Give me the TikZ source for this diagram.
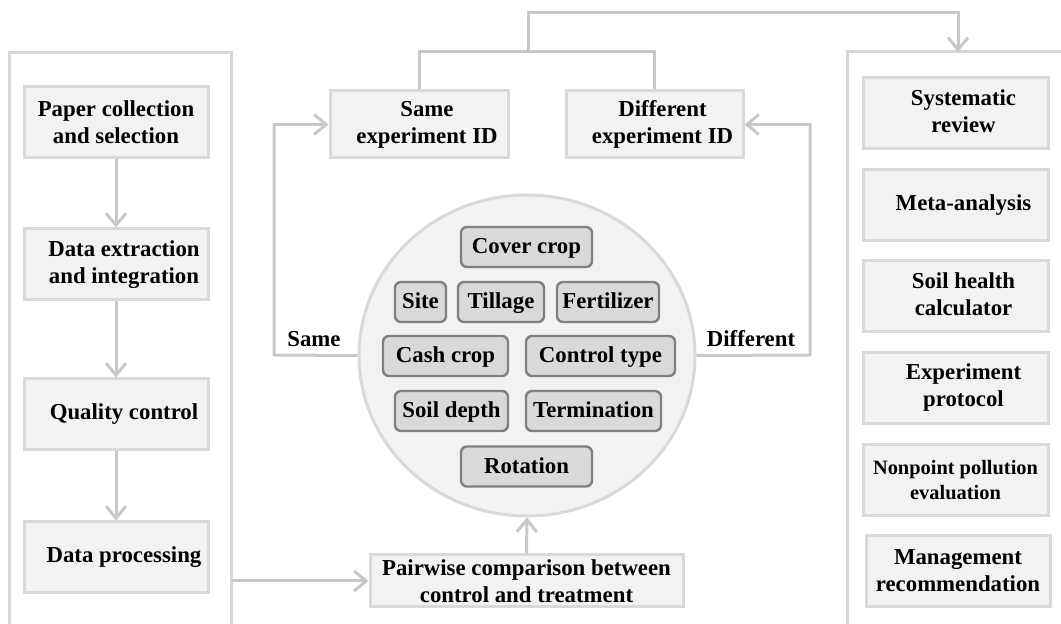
\documentclass[tikz,border=0pt]{standalone}
\usepackage{fontspec}
\setmainfont{Liberation Serif}
\usepackage{xcolor}
\usetikzlibrary{arrows.meta, positioning, calc, shapes.geometric}

\definecolor{conngray}{RGB}{200,200,200}
\definecolor{framegray}{RGB}{215,215,215}
\definecolor{boxline}{RGB}{217,217,217}
\definecolor{boxfill}{RGB}{242,242,242}
\definecolor{chipfill}{RGB}{217,217,217}
\definecolor{chipline}{RGB}{128,128,128}

\newcommand{\boxfont}{\bfseries\fontsize{11.4}{13.5}\selectfont}
% text set a little right of the box centre
\newcommand{\rtext}[1]{\hspace*{8pt}\begin{tabular}{@{}c@{}}#1\end{tabular}}

\begin{document}
\begin{tikzpicture}[x=0.5pt, y=-0.5pt,
		box/.style={draw=boxline, fill=boxfill, line width=1.5pt, align=center, inner sep=0pt,
			minimum width=92pt, minimum height=35.5pt, font=\boxfont},
		chip/.style={draw=chipline, fill=chipfill, line width=1.2pt, rounded corners=3pt,
			inner sep=0pt, minimum height=20pt, text height=9pt, text depth=2pt, font=\boxfont},
		conn/.style={draw=conngray, line width=1.5pt},
		arr/.style={conn, -{Straight Barb[length=6pt, width=10pt]}},
		frame/.style={draw=framegray, line width=1.5pt},
		lbl/.style={font=\boxfont}
	]
	
	\useasboundingbox (0,0) rectangle (1061,624);
	
	% Frames
	\draw[frame] (9,624) |- (231,53) -- (231,624);
	\draw[frame] (847,624) |- (1061,52);
	
	% Workflow on the left
	\node[box] (paper)   at (116,122.5) {Paper collection\\and selection};
	\node[box] (extract) at (116,264.5) {\rtext{Data extraction\\and integration}};
	\node[box] (quality) at (116,414.5) {\rtext{Quality control}};
	\node[box] (process) at (116,557.5) {\rtext{Data processing}};
	
	\foreach \a/\b in {paper/extract, extract/quality, quality/process}
	\draw[arr] (\a) -- (\b);
	
	% Pairwise comparison and criteria
	\node[box, minimum width=156.5pt, minimum height=26pt] (pair) at (526.5,581)
	{Pairwise comparison between\\control and treatment};
	
	\node[ellipse, draw=boxline, fill=boxfill, line width=1.5pt,
	minimum width=168pt, minimum height=160.5pt, inner sep=0pt] (circ) at (527,355.5) {};
	
	\node[chip, minimum width=65.5pt] (cover)   at (526.5,247) {Cover crop};
	\node[chip, minimum width=25.5pt] (site)    at (420.5,302) {Site};
	\node[chip, minimum width=43pt]   (tillage) at (501,302)   {Tillage};
	\node[chip, minimum width=51pt]   (fert)    at (608,302)   {Fertilizer};
	\node[chip, minimum width=62.5pt] (cash)    at (445.5,356) {Cash crop};
	\node[chip, minimum width=74.5pt] (ctype)   at (600.5,356) {Control type};
	\node[chip, minimum width=56.5pt] (depth)   at (451.5,411) {Soil depth};
	\node[chip, minimum width=67.5pt] (term)    at (593.5,411) {Termination};
	\node[chip, minimum width=65.5pt] (rot)     at (526.5,466.5) {Rotation};
	
	\coordinate (lfout) at (231,581);
	\draw[arr] (lfout) -- (pair.west);
	\draw[arr] (pair.north) -- (circ.south);
	
	% Experiment ID
	\node[box, minimum width=89pt, minimum height=33.5pt] (sameid) at (419,124.5)
	{\rtext{Same\\experiment ID}};
	\node[box, minimum width=88.5pt, minimum height=33.5pt] (diffid) at (654.5,124.5)
	{\rtext{Different\\experiment ID}};
	
	\coordinate (sameturn) at (274,355);
	\coordinate (diffturn) at (810,355);
	\draw[arr] (circ.west) -- (sameturn) |- (sameid.west);
	\draw[arr] (circ.east) -- (diffturn) |- (diffid.east);
	\node[lbl] (same) at (314,339) {Same};
	\node[lbl] (diff) at (751,339) {Different};
	
	% Bracket to applications
	\coordinate (brk) at (528,52);
	\coordinate (toprt) at (958,13);
	\coordinate (rfin) at (958,52);
	\draw[conn] (sameid.north) |- (brk) -| (diffid.north);
	\draw[arr] (brk) |- (toprt) -- (rfin);
	
	% Applications on the right
	\node[box, minimum width=92.5pt] (sysrev) at (955.5,113.5) {\rtext{Systematic\\review}};
	\node[box, minimum width=92.5pt] (meta)   at (955.5,205)   {\rtext{Meta-analysis}};
	\node[box, minimum width=92.5pt] (shc)    at (955.5,296.5) {\rtext{Soil health\\calculator}};
	\node[box, minimum width=92.5pt] (proto)  at (955.5,388)   {\rtext{Experiment\\protocol}};
	\node[box, minimum width=92.5pt, font=\bfseries\fontsize{10.2}{12.5}\selectfont]
	(nps) at (955.5,480) {Nonpoint pollution\\evaluation};
	\node[box, minimum width=92pt]   (mgmt)   at (958,571)   {Management\\recommendation};
	
\end{tikzpicture}
\end{document}
